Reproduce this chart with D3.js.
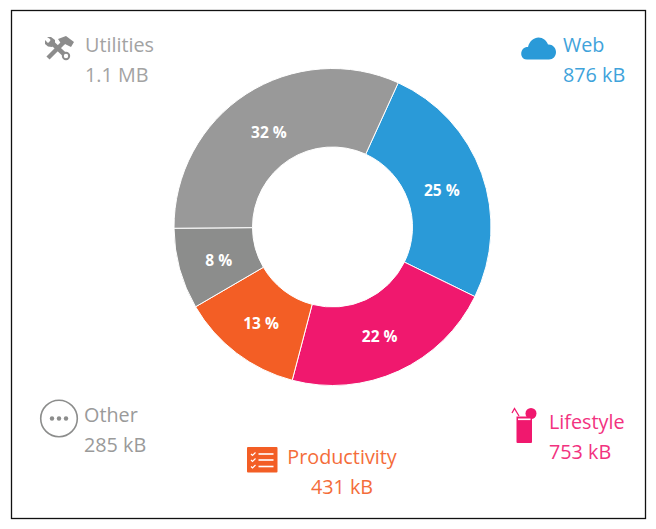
<!DOCTYPE html>
<html><head><meta charset="utf-8">
<script src="https://cdn.jsdelivr.net/npm/d3@7/dist/d3.min.js"></script>
<style>html,body{margin:0;padding:0;background:#fff}svg{display:block}text{font-family:"Open Sans",sans-serif}</style>
</head><body><svg id="c" width="656" height="529"></svg>
<script>
const categories=["Web","Lifestyle","Productivity","Other","Utilities"];
const sizesKB=[876,753,431,285,1100];
const sizeLabels=["876 kB","753 kB","431 kB","285 kB","1.1 MB"];
const percentLabels=["25 %","22 %","13 %","8 %","32 %"];
const sliceColors=["#2A9AD8","#F0186E","#F35E25","#8C8D8C","#999999"];
const textColors=["#3FA3DB","#F2327F","#F46D3A","#9A9A9A","#A3A3A3"];
const labelRadii=[115,118,118,118,115];
const labelShiftX=[1,-2,0,0,-1];

const svg=d3.select("#c");
svg.append("rect").attr("x",11.5).attr("y",10.5).attr("width",634).attr("height",508)
  .attr("fill","#fff").attr("stroke","#111").attr("stroke-width",1.3);

const cx=332.5,cy=227,R=158.5,r0=80;
const start=24.5*Math.PI/180;
const pie=d3.pie().sort(null).startAngle(start).endAngle(start+2*Math.PI);
const arc=d3.arc().innerRadius(r0).outerRadius(R);
const g=svg.append("g").attr("transform",`translate(${cx},${cy})`);
const arcs=pie(sizesKB);
g.selectAll("path").data(arcs).join("path").attr("d",arc)
  .attr("fill",(d,i)=>sliceColors[i]).attr("stroke","#fff").attr("stroke-width",1);
g.selectAll("text").data(arcs).join("text")
  .attr("transform",(d,i)=>{
    const c=d3.arc().innerRadius(labelRadii[i]).outerRadius(labelRadii[i]).centroid(d);
    return `translate(${c[0]+labelShiftX[i]},${c[1]})`;
  })
  .attr("text-anchor","middle").attr("dy","0.5em")
  .attr("font-size",15.5).attr("font-weight",700).attr("fill","#fff")
  .text((d,i)=>percentLabels[i]);

const legendPos=[
 {x:563,y:52,vy:82,a:"start"},
 {x:549,y:429,vy:459,a:"start"},
 {x:342,y:464,vy:494,a:"middle"},
 {x:84,y:422,vy:452,a:"start"},
 {x:85,y:52,vy:82,a:"start"}];
categories.forEach((c,i)=>{
  const p=legendPos[i];
  svg.append("text").attr("x",p.x).attr("y",p.y).attr("text-anchor",p.a)
    .attr("font-size",19.8).attr("fill",textColors[i]).text(c);
  svg.append("text").attr("x",p.x).attr("y",p.vy).attr("text-anchor",p.a)
    .attr("font-size",19.8).attr("fill",textColors[i]).text(sizeLabels[i]);
});

// Icons
svg.append("path").attr("fill",sliceColors[0]).attr("d",
 "M527,59.5 C521,59.5 520,53 522.5,49.5 C524,47.5 526,47 528,47 C529.5,41 534,37.5 538.5,37.5 C543,37.5 546.5,40.5 548,44.5 C552,44 556,47.5 556,52 C556,56.5 553,59.5 549,59.5 Z");
const dk=svg.append("g").attr("fill",sliceColors[1]);
dk.append("circle").attr("cx",531).attr("cy",413.5).attr("r",5.5);
dk.append("path").attr("d","M516.5,416.5 H532 V442 Q532,443 531,443 H517.5 Q516.5,443 516.5,442 Z");
svg.append("rect").attr("x",518).attr("y",418.5).attr("width",12.5).attr("height",1.6).attr("fill","#fff");
svg.append("path").attr("fill","none").attr("stroke",sliceColors[1]).attr("stroke-width",1.3)
  .attr("d","M512,413 L514.5,408.5 L519,416");
svg.append("rect").attr("x",247).attr("y",447).attr("width",30.5).attr("height",25.5).attr("rx",1).attr("fill",sliceColors[2]);
[454,460,466.5].forEach(y=>{
  svg.append("path").attr("fill","none").attr("stroke","#fff").attr("stroke-width",1.2)
    .attr("d",`M251,${y} l1.5,1.5 l3,-3`);
  svg.append("rect").attr("x",258.5).attr("y",y-0.8).attr("width",15).attr("height",1.6).attr("fill","#fff");
});
svg.append("circle").attr("cx",59).attr("cy",418.5).attr("r",18.3).attr("fill","#fff").attr("stroke",sliceColors[3]).attr("stroke-width",1.6);
[52,59,66].forEach(x=>svg.append("circle").attr("cx",x).attr("cy",418.5).attr("r",2.2).attr("fill",sliceColors[3]));
const t=svg.append("g").attr("fill","none").attr("stroke","#8c8c8c");
t.append("path").attr("stroke-width",4.5).attr("d","M50,41 L65,55");
t.append("path").attr("stroke-width",4.5).attr("d","M48,58 L64,42");
svg.append("path").attr("fill","#8c8c8c").attr("d","M58,39 L66,36 L74,42 L71,47 L65,44 L62,45 Z");
svg.append("path").attr("fill","#8c8c8c").attr("d","M45,40 L48,43 L51,41.5 L50,39 L47,37 L51,37 L55,40 L55,44 L52,47 L48,46.5 L45,44 Z");
svg.append("circle").attr("cx",66).attr("cy",56).attr("r",3.2).attr("fill","#fff").attr("stroke","#8c8c8c").attr("stroke-width",2);
</script></body></html>
